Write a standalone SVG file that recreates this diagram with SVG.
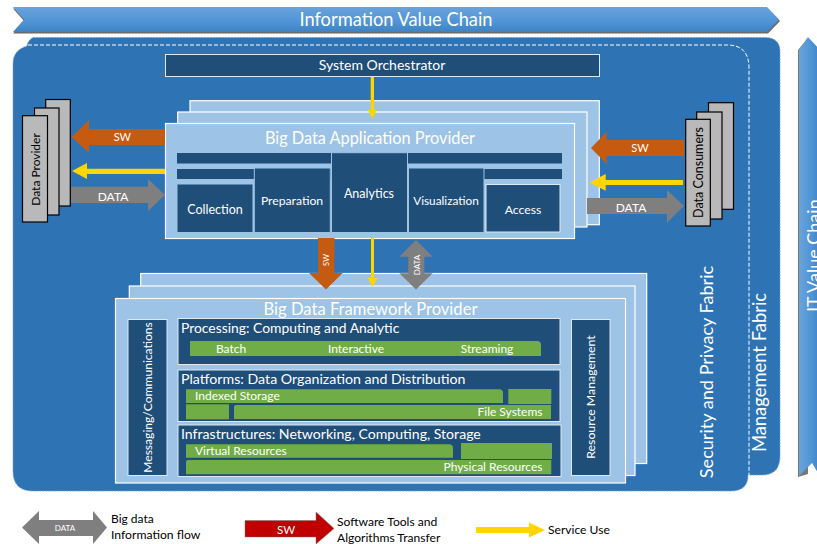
<svg xmlns="http://www.w3.org/2000/svg" width="817" height="544" viewBox="0 0 817 544">
<defs>
<linearGradient id="chain" x1="0" y1="0" x2="0" y2="1"><stop offset="0" stop-color="#6aa3db"/><stop offset="0.6" stop-color="#4f94d6"/><stop offset="1" stop-color="#3f82c0"/></linearGradient>
<linearGradient id="chainV" x1="0" y1="0" x2="1" y2="0"><stop offset="0" stop-color="#6aa3db"/><stop offset="0.6" stop-color="#4f94d6"/><stop offset="1" stop-color="#3f82c0"/></linearGradient>
</defs>
<style>
text{font-family:"Lato","Open Sans","Liberation Sans",sans-serif}
.w{fill:#fff;text-anchor:middle}
.l{fill:#fff}
.k{fill:#000}
.lb{fill:#9dc3e6;stroke:#fff;stroke-width:1.2}
.nv{fill:#1f4e79;stroke:#dce9f5;stroke-width:1}
.nb{fill:#1f4e79;stroke:#9dc3e6;stroke-width:1}
.nvf{fill:#1f4e79}
.g{fill:#70ad47}
.st{fill:#b9b9b9;stroke:#000;stroke-width:1.2}
.or{fill:#c55a11}
.gy{fill:#7f7f7f}
.ye{fill:#ffd500}
</style>
<rect width="817" height="544" fill="#fff"/>
<g id="value-chains">
<path d="M13 8.500H768L780 21L768 33.500H13L24 21Z" fill="#6b6b6b"/>
<path d="M13 7H767L779 19.500L767 32H13L24 19.500Z" fill="url(#chain)"/>
<text class="w" x="396" y="26" font-size="18.300">Information Value Chain</text>
<path d="M798 50L808 38V474L798 477Z" fill="#777"/>
<path d="M799 50L808 37L820 50V476L812 463L799 476Z" fill="url(#chainV)"/>
<text class="l" transform="translate(820 312) rotate(-90)" font-size="18">IT Value Chain</text>
</g>
<g id="management-fabric">
<path d="M33 37.500H765Q780 37.500 780 52V456Q780 475 762 475H748Q748 491 731 491H33Q13 491 13 471V64Q13 50 27 46Q28 40 33 37.500Z" fill="#2e74b5" stroke="#6f9fd0" stroke-width="0.8" stroke-dasharray="2 1"/>
<path d="M28 45H727Q749 45 749 68V476" fill="none" stroke="#fff" stroke-width="1" stroke-dasharray="4 2"/>
<text class="w" transform="translate(766 372.500) rotate(-90)" font-size="18.400">Management Fabric</text>
<text class="w" transform="translate(713 372) rotate(-90)" font-size="18.100">Security and Privacy Fabric</text>
</g>
<g id="system-orchestrator">
<rect x="165.500" y="54.500" width="434" height="22" class="nv"/>
<text class="w" x="382" y="70" font-size="14">System Orchestrator</text>
</g>
<g id="data-provider">
<rect x="45.700" y="99.500" width="24.600" height="106.500" class="st"/>
<rect x="34.500" y="108" width="24.500" height="107" class="st"/>
<rect x="22.500" y="115.700" width="25" height="106.300" class="st"/>
<text class="k" transform="translate(39.500 169.500) rotate(-90)" font-size="12" text-anchor="middle">Data Provider</text>
</g>
<g id="data-consumers">
<rect x="708.500" y="102.700" width="25" height="106.600" class="st"/>
<rect x="696.700" y="112" width="25.300" height="107" class="st"/>
<rect x="685.700" y="119.300" width="24.600" height="106.700" class="st"/>
<text class="k" transform="translate(703 172.500) rotate(-90)" font-size="12.500" text-anchor="middle">Data Consumers</text>
</g>
<g id="big-data-application-provider">
<rect x="190" y="100.700" width="409.300" height="124" class="lb"/>
<rect x="177.700" y="112" width="409.300" height="115" class="lb"/>
<rect x="165.500" y="123.500" width="409" height="115" class="lb"/>
<text class="w" x="370" y="144" font-size="16.300">Big Data Application Provider</text>
<rect x="177" y="153" width="385" height="10.500" class="nvf"/>
<rect x="177" y="169" width="385" height="10" class="nvf"/>
<rect x="177" y="184" width="76" height="48.500" class="nb"/>
<rect x="254.300" y="168" width="76" height="64.500" class="nb"/>
<rect x="331.500" y="152.700" width="76" height="79.800" class="nb"/>
<rect x="408.500" y="168" width="75.500" height="64.500" class="nb"/>
<rect x="486" y="184.500" width="74" height="47.500" class="nv"/>
<text class="w" x="215" y="214" font-size="12.500">Collection</text>
<text class="w" x="292" y="205" font-size="12.200">Preparation</text>
<text class="w" x="369" y="198" font-size="12.500">Analytics</text>
<text class="w" x="446" y="205" font-size="11.800">Visualization</text>
<text class="w" x="523" y="214" font-size="12.200">Access</text>
</g>
<g id="big-data-framework-provider">
<rect x="140.700" y="273.500" width="506" height="190" class="lb"/>
<rect x="129.300" y="286" width="505.700" height="189.500" class="lb"/>
<rect x="115.500" y="298.500" width="510" height="184.500" class="lb"/>
<text class="w" x="370.500" y="315" font-size="16.600">Big Data Framework Provider</text>
<rect x="128" y="319.500" width="39" height="156" class="nv"/>
<text class="w" transform="translate(152 397.500) rotate(-90)" font-size="12.100">Messaging/Communications</text>
<rect x="571.500" y="319.500" width="38.500" height="156" class="nv"/>
<text class="w" transform="translate(594.500 397) rotate(-90)" font-size="12.300">Resource Management</text>
<rect x="178" y="318.500" width="382" height="46" class="nv"/>
<text class="l" x="181" y="333" font-size="13.900">Processing: Computing and Analytic</text>
<path d="M190 341H537Q541 341 541 345V356H190Z" class="g"/>
<text class="w" x="231" y="353" font-size="12">Batch</text>
<text class="w" x="356" y="353" font-size="12">Interactive</text>
<text class="w" x="487" y="353" font-size="12">Streaming</text>
<rect x="178" y="370" width="382" height="51.500" class="nv"/>
<text class="l" x="181" y="384" font-size="14.200">Platforms: Data Organization and Distribution</text>
<path d="M186 389.300H499Q503 389.300 503 393V403H186Z" class="g"/>
<rect x="508.300" y="389" width="43" height="15" class="g"/>
<rect x="186" y="404.300" width="43" height="15" class="g"/>
<path d="M234 407Q234 405 236 405H551V419H234Z" class="g"/>
<text class="l" x="195" y="400" font-size="12">Indexed Storage</text>
<text class="w" x="510" y="416" font-size="12">File Systems</text>
<rect x="178" y="425" width="383" height="51.500" class="nv"/>
<text class="l" x="181" y="439" font-size="14.100">Infrastructures: Networking, Computing, Storage</text>
<path d="M186 444.300H449Q453 444.300 453 448V457.700H186Z" class="g"/>
<rect x="461" y="443" width="91" height="16" class="g"/>
<path d="M186 462Q186 460 188 460H551.300V474.300H186Z" class="g"/>
<text class="l" x="195" y="455" font-size="12">Virtual Resources</text>
<text class="w" x="493" y="471" font-size="12">Physical Resources</text>
</g>
<g id="connectors">
<rect x="370.700" y="77" width="3.300" height="34" class="ye"/>
<path d="M368 110H376.700L372.400 119Z" class="ye"/>
<path d="M165 129H89V120L71.700 137L89 153V145H165Z" class="or"/>
<text class="w" x="122.300" y="141" font-size="11">SW</text>
<path d="M165 168.700H87V163L72 171L87 179V174H165Z" class="ye"/>
<path d="M71 186.700H148V179L165 195L148 211V203H71Z" class="gy"/>
<text class="w" x="113" y="201" font-size="12">DATA</text>
<path d="M684 140H606.700V131.700L591 148L606.700 164V156H684Z" class="or"/>
<text class="w" x="640" y="152" font-size="11">SW</text>
<path d="M683 180H605.700V174L589.300 182.500L605.700 190.700V185H683Z" class="ye"/>
<path d="M587 198H667V190L684 206L667 222.700V214H587Z" class="gy"/>
<text class="w" x="631" y="212" font-size="12">DATA</text>
<path d="M318 238H334.300V273H342.700L326 289.500L309 273H318Z" class="or"/>
<text class="w" transform="translate(329 260) rotate(-90)" font-size="7.500">SW</text>
<rect x="371" y="238" width="3" height="41" class="ye"/>
<path d="M367.700 278H377.700L372.500 287Z" class="ye"/>
<path d="M416 240L432.700 256.700H424.300V273.300H432.700L416 289.500L399.300 273.300H408.300V256.700H399.300Z" class="gy"/>
<text class="w" transform="translate(420 265) rotate(-90)" font-size="8">DATA</text>
</g>
<g id="legend">
<path d="M39 511V520H93V511L107 527.500L93 544V536H39V544L22 527.500Z" class="gy"/>
<text class="w" x="65" y="531" font-size="8">DATA</text>
<text class="k" x="111" y="523" font-size="12">Big data</text>
<text class="k" x="111" y="539" font-size="12.200">Information flow</text>
<path d="M245 520.500H316V512L334 528.500L316 544V537H245Z" fill="#c00000" stroke="#777" stroke-width="0.5"/>
<text class="w" x="286" y="534" font-size="11.500">SW</text>
<text class="k" x="337" y="526" font-size="12.100">Software Tools and</text>
<text class="k" x="337" y="542" font-size="12.100">Algorithms Transfer</text>
<path d="M476 527H529V522.500L545 530L529 537.500V533H476Z" class="ye"/>
<text class="k" x="548" y="534" font-size="12.100">Service Use</text>
</g>
</svg>
